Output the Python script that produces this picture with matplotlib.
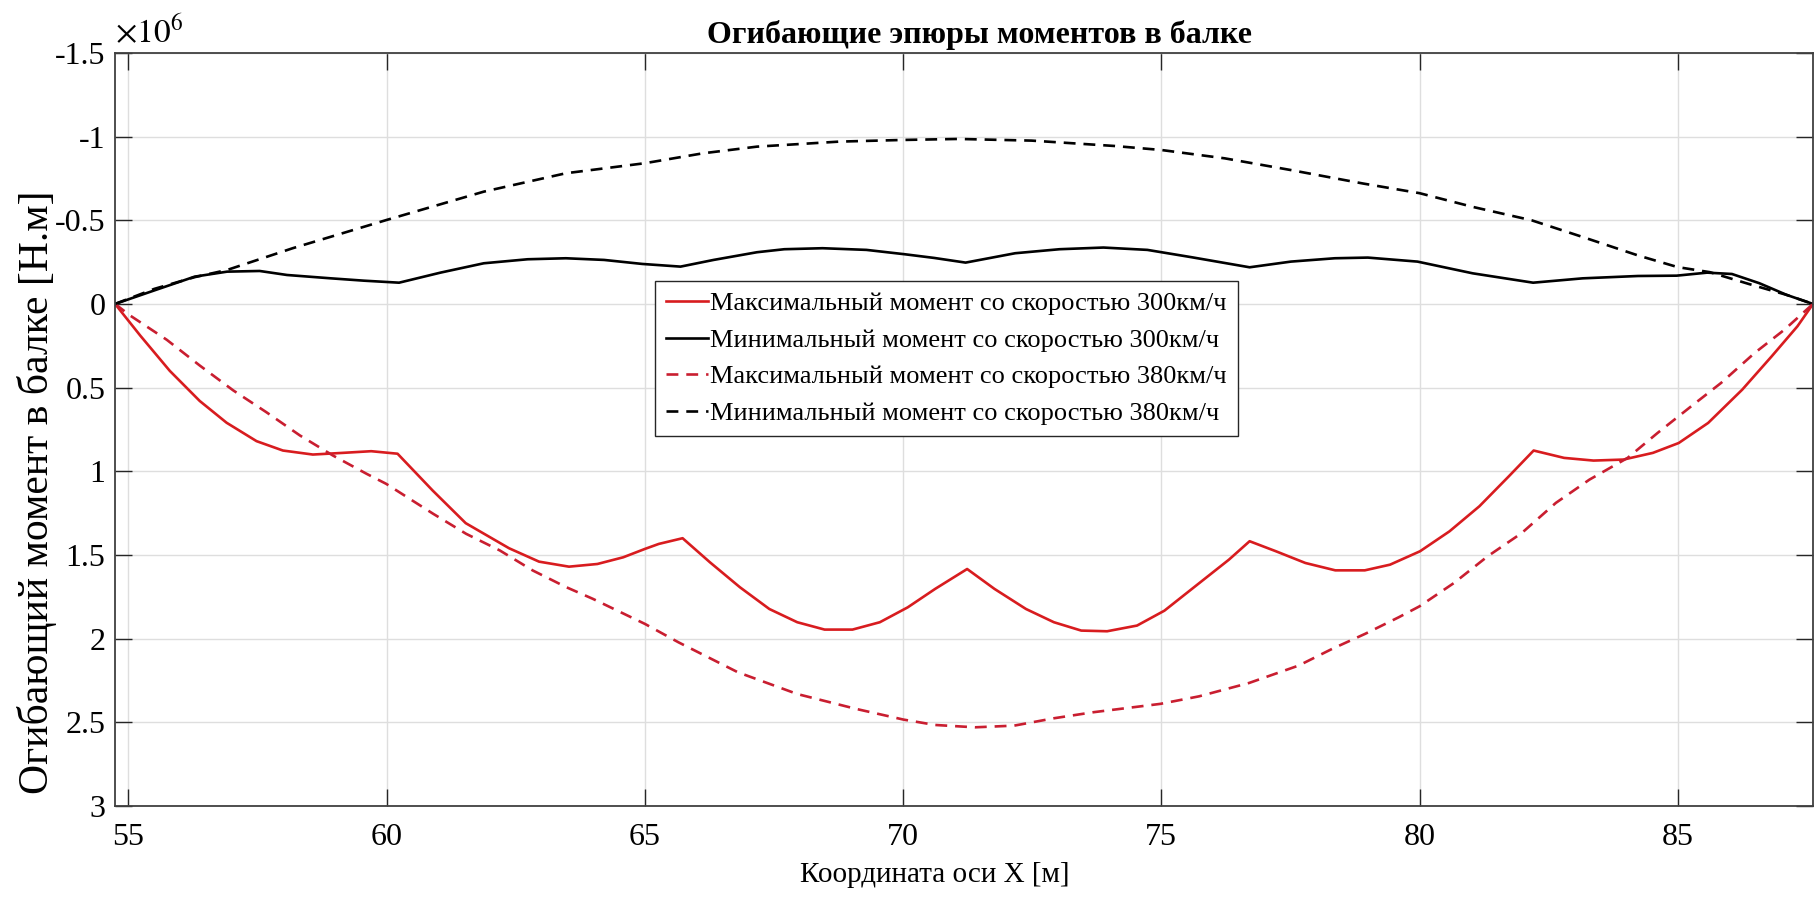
import numpy as np
import matplotlib
matplotlib.use("Agg")
import matplotlib.pyplot as plt

plt.rcParams['font.family'] = ['Liberation Serif', 'DejaVu Serif']
plt.rcParams['mathtext.fontset'] = 'stix'

# moment values are in 10^6 N*m (axis multiplier shown as x10^6)
x_max300 = [54.74, 55.23, 55.80, 56.38, 56.90, 57.48, 57.99, 58.57, 59.15, 59.70,
            60.21, 60.89, 61.53, 62.37, 62.95, 63.53, 64.08, 64.58, 65.00, 65.27,
            65.73, 66.26, 66.84, 67.41, 67.95, 68.48, 69.02, 69.55, 70.09, 70.62,
            71.24, 71.77, 72.38, 72.92, 73.45, 73.95, 74.53, 75.06, 75.74, 76.31,
            76.71, 77.22, 77.79, 78.37, 78.94, 79.43, 80.01, 80.58, 81.16, 81.73,
            82.21, 82.80, 83.37, 83.95, 84.52, 85.02, 85.59, 86.25, 86.82, 87.32, 87.62]
m_max300 = [0.0, 0.19, 0.40, 0.58, 0.71, 0.82, 0.876, 0.90, 0.89, 0.88,
            0.895, 1.115, 1.31, 1.46, 1.54, 1.57, 1.554, 1.514, 1.464, 1.434,
            1.40, 1.544, 1.693, 1.823, 1.902, 1.946, 1.946, 1.902, 1.813, 1.703,
            1.584, 1.703, 1.823, 1.902, 1.952, 1.956, 1.922, 1.833, 1.667, 1.528,
            1.418, 1.478, 1.548, 1.592, 1.592, 1.558, 1.478, 1.359, 1.209, 1.03,
            0.876, 0.92, 0.936, 0.93, 0.89, 0.831, 0.711, 0.512, 0.313, 0.133, 0.0]

x_min300 = [54.74, 55.53, 56.28, 56.91, 57.54, 58.07, 58.92, 59.56, 60.24, 61.04,
            61.88, 62.73, 63.47, 64.21, 64.95, 65.69, 66.33, 67.17, 67.70, 68.44,
            69.29, 70.03, 70.60, 71.21, 72.17, 73.03, 73.88, 74.73, 75.59, 76.71,
            77.51, 78.36, 79.00, 79.96, 81.03, 82.20, 83.16, 84.23, 84.98, 85.57,
            86.05, 86.58, 87.11, 87.62]
m_min300 = [0.0, -0.084, -0.163, -0.193, -0.197, -0.173, -0.153, -0.139, -0.127, -0.187,
            -0.243, -0.267, -0.273, -0.263, -0.239, -0.223, -0.263, -0.309, -0.327, -0.333,
            -0.323, -0.297, -0.275, -0.247, -0.303, -0.327, -0.337, -0.323, -0.279, -0.219,
            -0.253, -0.273, -0.277, -0.253, -0.183, -0.127, -0.153, -0.167, -0.169, -0.187,
            -0.179, -0.124, -0.054, 0.0]

x_max380 = [54.74, 55.03, 55.74, 56.38, 57.03, 57.67, 58.32, 58.96, 59.61, 59.99,
            60.90, 61.54, 62.19, 62.83, 63.48, 63.99, 65.00, 65.65, 66.80, 67.95,
            69.09, 70.01, 70.62, 71.39, 72.15, 72.92, 73.68, 74.98, 75.73, 76.70,
            77.66, 78.31, 78.95, 79.60, 80.00, 80.67, 81.32, 81.98, 82.64, 83.29,
            84.03, 84.61, 85.26, 85.84, 86.49, 87.07, 87.62]
m_max380 = [0.0, 0.069, 0.214, 0.368, 0.517, 0.647, 0.786, 0.906, 1.015, 1.075,
            1.254, 1.374, 1.473, 1.593, 1.693, 1.762, 1.912, 2.022, 2.201, 2.331,
            2.42, 2.484, 2.516, 2.53, 2.52, 2.476, 2.44, 2.39, 2.345, 2.265,
            2.161, 2.061, 1.971, 1.872, 1.807, 1.667, 1.508, 1.369, 1.189, 1.05,
            0.92, 0.771, 0.612, 0.472, 0.293, 0.153, 0.0]

x_min380 = [54.74, 55.50, 56.28, 56.91, 58.18, 60.00, 61.88, 63.47, 65.00, 66.12,
            67.17, 68.76, 70.00, 71.07, 72.49, 74.09, 75.00, 76.23, 77.51, 78.90,
            80.00, 81.03, 82.17, 83.16, 84.23, 85.00, 85.62, 86.37, 87.11, 87.62]
m_min380 = [0.0, -0.09, -0.16, -0.203, -0.333, -0.502, -0.671, -0.781, -0.841, -0.90,
            -0.94, -0.97, -0.98, -0.986, -0.976, -0.944, -0.92, -0.87, -0.80, -0.72,
            -0.662, -0.58, -0.50, -0.40, -0.29, -0.22, -0.19, -0.12, -0.054, 0.0]

labels = ['Максимальный момент со скоростью 300км/ч',
          'Минимальный момент со скоростью 300км/ч',
          'Максимальный момент со скоростью 380км/ч',
          'Минимальный момент со скоростью 380км/ч']

xticks = [55, 60, 65, 70, 75, 80, 85]
yticks = [-1.5, -1, -0.5, 0, 0.5, 1, 1.5, 2, 2.5, 3]

fig = plt.figure(figsize=(18.15, 9.11), dpi=100)
ax = fig.add_axes([0.0634, 0.1153, 0.9355, 0.8266])

red = '#d81c1f'
red_d = '#c91e30'
dash = (4.5, 3)
ax.plot(x_max300, m_max300, color=red, lw=1.9, label=labels[0])
ax.plot(x_min300, m_min300, color='k', lw=1.9, label=labels[1])
ax.plot(x_max380, m_max380, color=red_d, lw=1.9, dashes=dash, label=labels[2])
ax.plot(x_min380, m_min380, color='k', lw=1.9, dashes=dash, label=labels[3])

ax.set_xlim(54.74, 87.62)
ax.set_ylim(3, -1.5)
ax.set_xticks(xticks)
ax.set_xticklabels([str(t) for t in xticks])
ax.set_yticks(yticks)
ax.set_yticklabels([('%g' % t) for t in yticks])
ax.grid(True, color='#dedede', lw=1.0)
ax.set_axisbelow(True)
ax.tick_params(direction='in', length=12, width=1.0, top=True, right=True,
               labelsize=23, color='#262626')
ax.tick_params(axis='x', pad=12)
ax.tick_params(axis='y', pad=7)
for s in ax.spines.values():
    s.set_color('#404040')
    s.set_linewidth(1.3)

ax.set_xlabel('Координата оси X [м]', fontsize=21)
ax.xaxis.set_label_coords(0.483, -0.075)
ax.set_ylabel('Огибающий момент в балке [Н.м]', fontsize=30)
ax.yaxis.set_label_coords(-0.034, 0.417)
ax.set_title('Огибающие эпюры моментов в балке', fontsize=23, fontweight='bold',
             x=0.509, pad=7)
ax.text(0.0, 1.004, r'$\times10^{6}$', transform=ax.transAxes, fontsize=24,
        ha='left', va='bottom')

leg = ax.legend(loc='upper left', bbox_to_anchor=(0.318, 0.697), fontsize=19,
                frameon=True, fancybox=False, edgecolor='#262626', framealpha=1,
                handlelength=1.6, handletextpad=0.1, borderpad=0.4,
                labelspacing=0.5, borderaxespad=0.0)
leg.get_frame().set_linewidth(1.0)

fig.savefig('out.png', dpi=100)
